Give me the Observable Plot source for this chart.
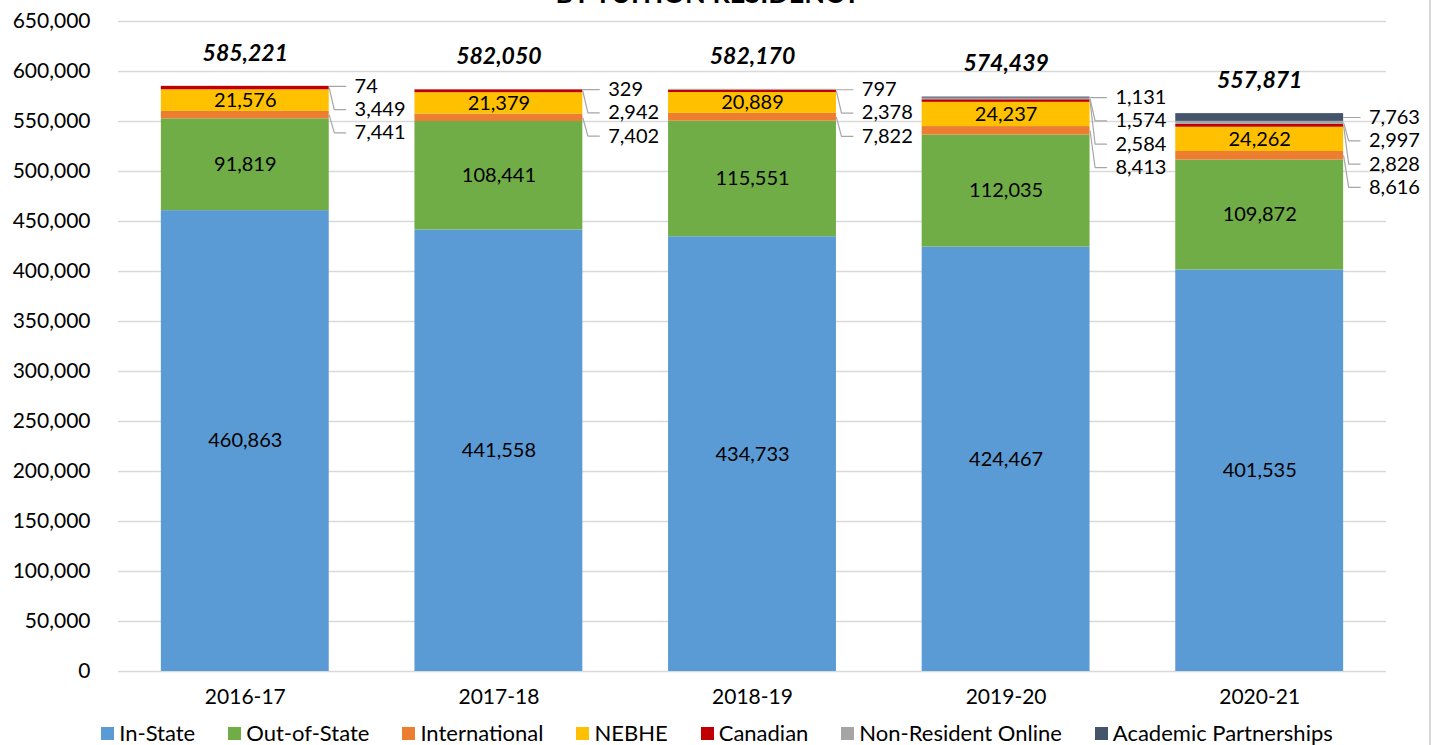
<!DOCTYPE html>
<html><head><meta charset="utf-8">
<script src="https://cdn.jsdelivr.net/npm/d3@7"></script>
<script src="https://cdn.jsdelivr.net/npm/@observablehq/plot@0.6"></script>
<style>
html,body{margin:0;padding:0;background:#fff;}
body{width:1434px;height:745px;overflow:hidden;position:relative;font-family:Lato,"Open Sans",sans-serif;}
#title{position:absolute;top:-21px;left:0;width:1416px;text-align:center;font-weight:bold;font-size:27px;line-height:1;color:#000;}
#chart{position:absolute;top:0;left:0;}
#legend{position:absolute;top:722px;left:0;width:1434px;display:flex;justify-content:center;gap:33px;font-size:22px;line-height:22px;color:#000;}
.item{display:flex;align-items:center;}
.sw{width:13px;height:13px;margin-right:5px;}
#border{position:absolute;left:1429px;top:0;width:2px;height:745px;background:#d9d9d9;}
</style></head><body>
<div id="title">BY TUITION RESIDENCY</div>
<div id="chart"></div>
<div id="legend"></div>
<div id="border"></div>
<script>
const years = ["2016-17","2017-18","2018-19","2019-20","2020-21"];
const series = ["In-State","Out-of-State","International","NEBHE","Canadian","Non-Resident Online","Academic Partnerships"];
const colors = ["#5B9BD5","#70AD47","#ED7D31","#FFC000","#C00000","#A5A5A5","#44546A"];
const inState = [460863,441558,434733,424467,401535];
const outOfState = [91819,108441,115551,112035,109872];
const international = [7441,7402,7822,8413,8616];
const nebhe = [21576,21379,20889,24237,24262];
const canadian = [3449,2942,2378,2584,2828];
const nonResidentOnline = [74,329,797,1574,2997];
const academicPartnerships = [0,0,0,1131,7763];
const totals = [585221,582050,582170,574439,557871];
const yTicks = [0,50000,100000,150000,200000,250000,300000,350000,400000,450000,500000,550000,600000,650000];
const insideSeries = ["In-State","Out-of-State","NEBHE"];
const outsideSeries = ["Academic Partnerships","Non-Resident Online","Canadian","International"]; // top to bottom

const values = {
  "In-State": inState, "Out-of-State": outOfState, "International": international,
  "NEBHE": nebhe, "Canadian": canadian, "Non-Resident Online": nonResidentOnline,
  "Academic Partnerships": academicPartnerships
};
const fmt = d3.format(",");
const hw = 0.331; // half bar width in band units
const labelStep = 23300;

const rows = [];
years.forEach((yr, i) => {
  let y0 = 0;
  series.forEach(s => {
    const v = values[s][i];
    rows.push({i, year: yr, series: s, value: v, x1: i - hw, x2: i + hw, y1: y0, y2: y0 + v, mid: y0 + v / 2});
    y0 += v;
  });
});

const leaders = [];
const outLabels = [];
years.forEach((yr, i) => {
  const segs = outsideSeries.map(s => rows.find(r => r.i === i && r.series === s)).filter(r => r.value > 0);
  const first = segs[0].mid;
  segs.forEach((r, k) => {
    const ly = first - k * labelStep;
    const key = yr + r.series;
    leaders.push({key, x: i + hw, y: r.mid});
    leaders.push({key, x: i + hw + 0.02, y: ly});
    leaders.push({key, x: i + hw + 0.065, y: ly});
    outLabels.push({x: i + hw + 0.1, y: ly, text: fmt(r.value)});
  });
});

const chart = Plot.plot({
  width: 1434, height: 715,
  marginLeft: 118, marginRight: 48, marginTop: 21, marginBottom: 44,
  style: {fontFamily: "Lato, 'Open Sans', sans-serif", fontSize: "20px", color: "#000", background: "transparent"},
  x: {type: "linear", domain: [-0.5, 4.5]},
  y: {domain: [0, 650000]},
  color: {domain: series, range: colors},
  marks: [
    Plot.ruleY(yTicks, {stroke: "#d9d9d9", strokeWidth: 1.5}),
    Plot.rect(rows, {x1: "x1", x2: "x2", y1: "y1", y2: "y2", fill: "series"}),
    Plot.line(leaders, {x: "x", y: "y", z: "key", stroke: "#a6a6a6", strokeWidth: 1.2}),
    Plot.text(outLabels, {x: "x", y: "y", text: "text", textAnchor: "start", fill: "#000", fontSize: 20}),
    Plot.text(rows.filter(r => insideSeries.includes(r.series)), {x: "i", y: "mid", text: d => fmt(d.value), fill: "#000", fontSize: 20}),
    Plot.text(totals, {x: (d, i) => i, y: d => d, text: d => fmt(d), dy: -33, fontWeight: "bold", fontStyle: "italic", fontSize: 23, fill: "#000"}),
    Plot.axisX({ticks: [0,1,2,3,4], tickFormat: i => years[i], tickSize: 0, tickPadding: 18, fontSize: 21}),
    Plot.axisY({ticks: yTicks, tickFormat: fmt, tickSize: 0, tickPadding: 28, fontSize: 21})
  ]
});
document.getElementById("chart").appendChild(chart);

const legend = document.getElementById("legend");
series.forEach((s, k) => {
  const it = document.createElement("div");
  it.className = "item";
  it.innerHTML = `<span class="sw" style="background:${colors[k]}"></span><span>${s}</span>`;
  legend.appendChild(it);
});
</script>
</body></html>
